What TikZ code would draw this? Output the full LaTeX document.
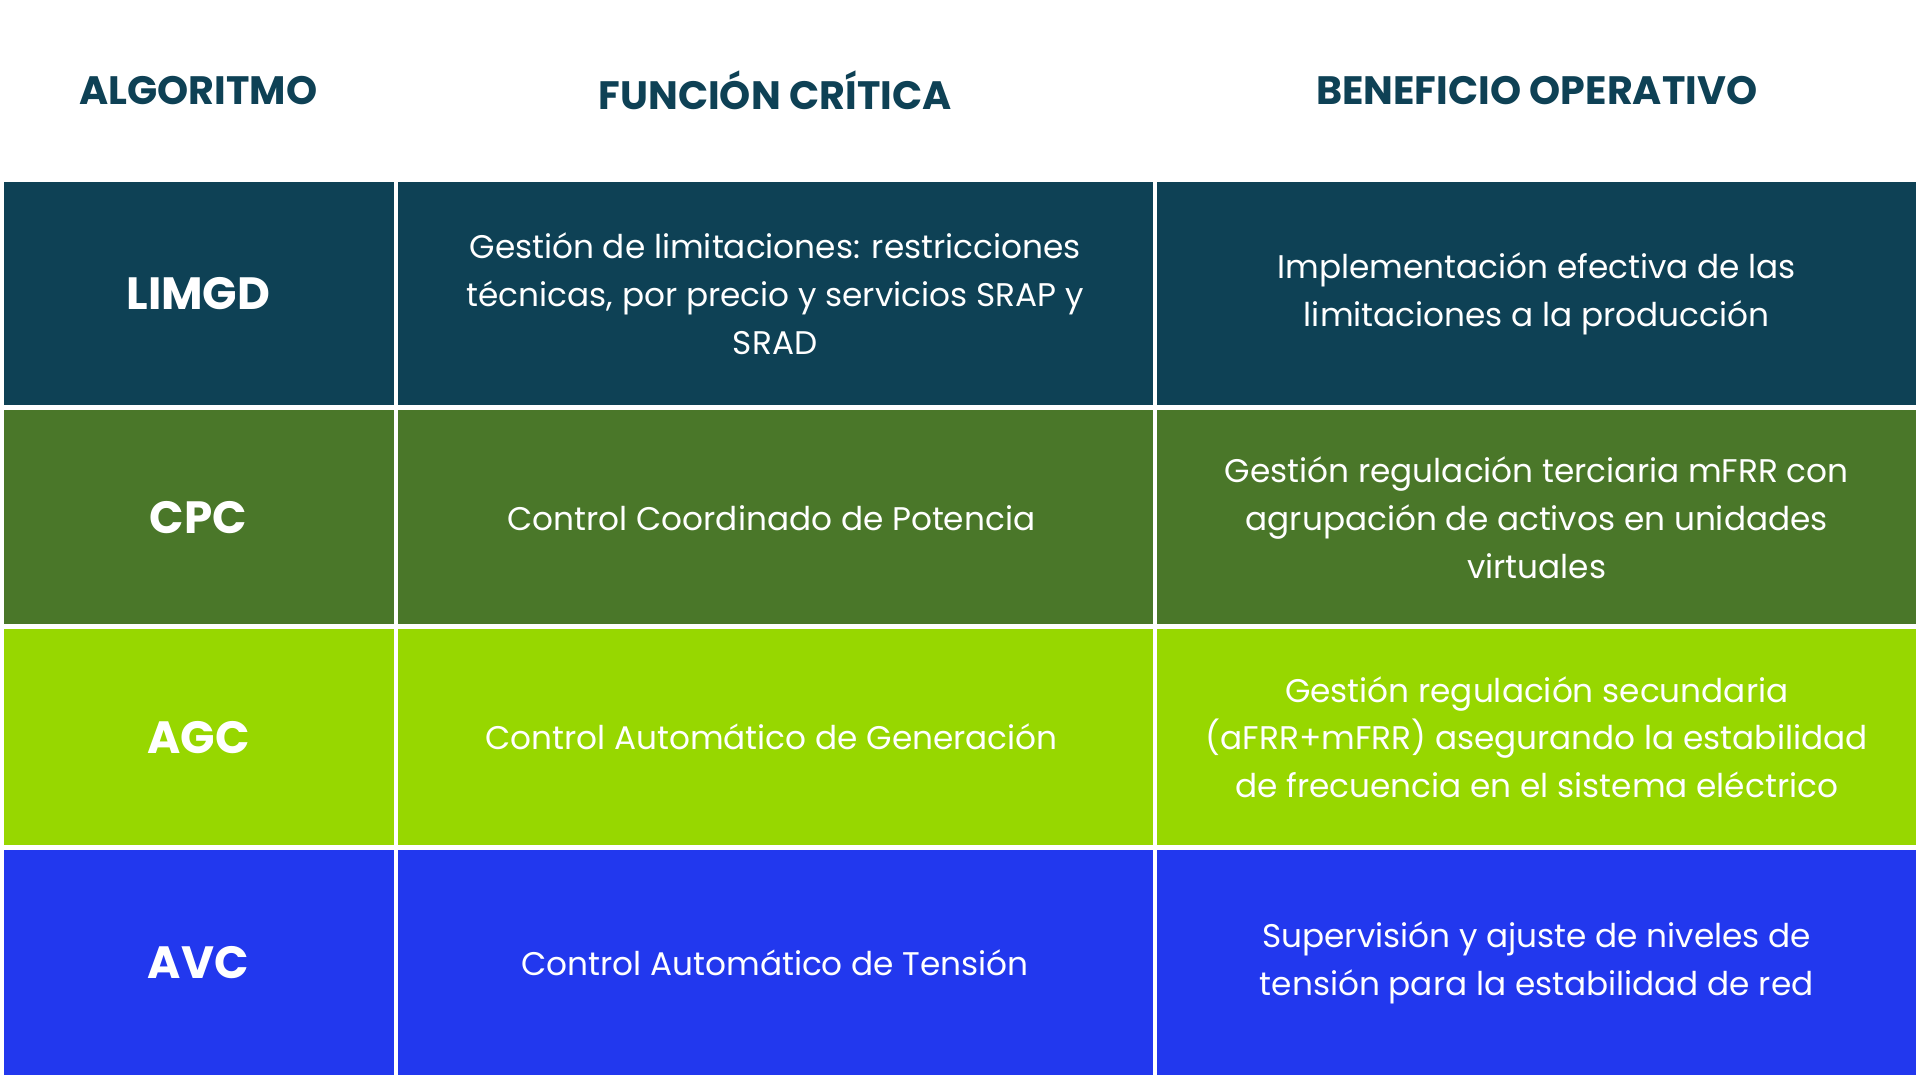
\documentclass[tikz,border=0pt]{standalone}
\usepackage{fontspec}
\setmainfont{Poppins}
\definecolor{cteal}{HTML}{0E4155}
\definecolor{cgreen}{HTML}{4A7729}
\definecolor{clime}{HTML}{97D700}
\definecolor{cblue}{HTML}{2238EE}
\tikzset{
 hdr/.style={font=\fontsize{9.2}{11}\selectfont\bfseries, text=cteal},
 cellbox/.style={inner sep=0pt, align=center, text=white, font=\fontsize{7.6}{11.1}\selectfont},
 algname/.style={cellbox, font=\fontsize{10.5}{12}\selectfont\bfseries}
}
\begin{document}
\begin{tikzpicture}[x=0.01cm,y=-0.01cm]
\useasboundingbox (0,0) rectangle (1568,882);
\fill[white] (0,0) rectangle (1568,882);
\node[hdr] (h1) at (162,74) {ALGORITMO};
\node[hdr] (h2) at (633,74) {FUNCIÓN CRÍTICA};
\node[hdr] (h3) at (1255,74) {BENEFICIO OPERATIVO};
\foreach \ya/\yb/\c in {149/331/cteal,335/510/cgreen,514/690/clime,694/878/cblue}{
 \fill[\c] (3,\ya) rectangle (322,\yb);
 \fill[\c] (325,\ya) rectangle (942,\yb);
 \fill[\c] (945,\ya) rectangle (1565,\yb);
}
\node[algname] (n1) at (162,240) {LIMGD};
\node[cellbox] (f1) at (633,240) {Gestión de limitaciones: restricciones\\técnicas, por precio y servicios SRAP y\\SRAD};
\node[cellbox] (b1) at (1255,240) {Implementación efectiva de las\\limitaciones a la producción};
\node[algname] (n2) at (162,423) {CPC};
\node[cellbox] (f2) at (630,423) {Control Coordinado de Potencia};
\node[cellbox] (b2) at (1255,423) {Gestión regulación terciaria mFRR con\\agrupación de activos en unidades\\virtuales};
\node[algname] (n3) at (162,602) {AGC};
\node[cellbox] (f3) at (630,602) {Control Automático de Generación};
\node[cellbox] (b3) at (1255,602) {Gestión regulación secundaria\\(aFRR+mFRR) asegurando la estabilidad\\de frecuencia en el sistema eléctrico};
\node[algname] (n4) at (162,786) {AVC};
\node[cellbox] (f4) at (633,786) {Control Automático de Tensión};
\node[cellbox] (b4) at (1255,786) {Supervisión y ajuste de niveles de\\tensión para la estabilidad de red};
\end{tikzpicture}
\end{document}
